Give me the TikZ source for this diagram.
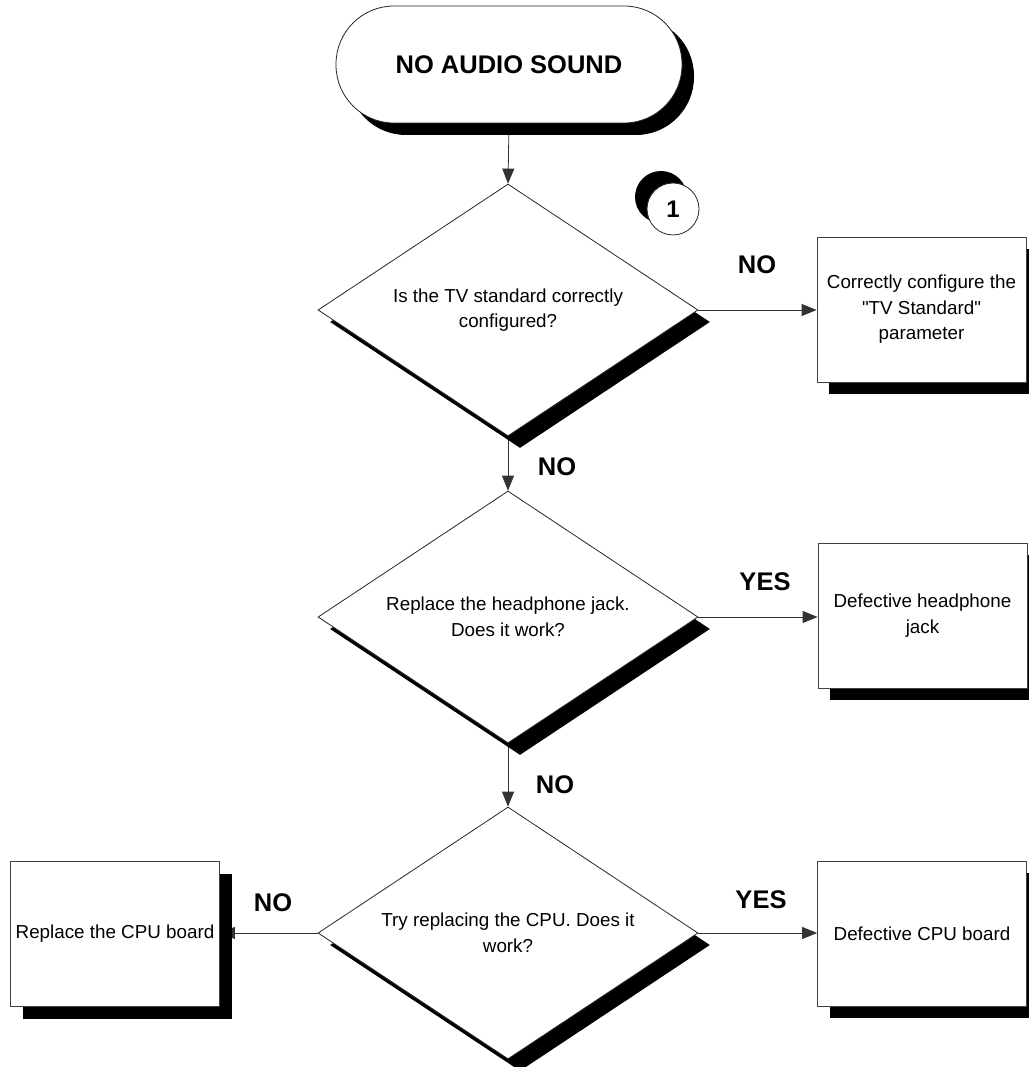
\documentclass[tikz,border=0pt]{standalone}
\usepackage{fontspec}
\setmainfont{Liberation Sans}[Ligatures=TeXOff]
\usetikzlibrary{shapes.geometric,shadows,arrows.meta}
\pgfdeclarelayer{bg}
\pgfsetlayers{bg,main}
\begin{document}
\begin{tikzpicture}[x=1pt,y=-1pt,
  txt/.style={font=\fontsize{18.8}{25.5}\selectfont, align=center, text=black},
  lbl/.style={font=\fontsize{25.5}{28}\selectfont\bfseries, inner sep=0pt},
  shad/.style={drop shadow={shadow xshift=12pt, shadow yshift=-12pt, fill=black, opacity=1}},
  dec/.style={diamond, shape aspect=1.5, draw=black!85, line width=0.8pt, fill=white, shad,
    minimum width=380pt, minimum height=252pt, inner sep=0pt, txt},
  box/.style={rectangle, draw=black!75, line width=0.8pt, fill=white, shad,
    minimum width=209pt, minimum height=145pt, inner sep=2pt, txt},
  term/.style={rectangle, rounded corners=58pt, draw=black!85, line width=0.8pt, fill=white, shad,
    minimum width=346pt, minimum height=117pt, font=\fontsize{25.5}{28}\selectfont\bfseries},
  conn/.style={draw=black!80, line width=0.8pt, -{Triangle[length=15pt,width=12pt]}}
]
\useasboundingbox (0,0) rectangle (1028,1067);

\node[term] (T) at (509,64.5) {NO AUDIO SOUND};
\node[circle, draw=black!85, line width=0.8pt, fill=white, minimum size=52pt, inner sep=0pt,
  drop shadow={shadow xshift=-12pt, shadow yshift=12pt, fill=black, opacity=1},
  font=\fontsize{24}{26}\selectfont\bfseries] (C) at (673,209) {1};

\node[dec] (D1) at (508,310) {Is the TV standard correctly\\configured?};
\node[dec] (D2) at (508,617) {Replace the headphone jack.\\Does it work?};
\node[dec] (D3) at (508,933) {Try replacing the CPU. Does it\\work?};

\node[box] (B1) at (921.5,309.5) {Correctly configure the\\"TV Standard"\\parameter};
\node[box] (B2) at (922.5,615.5) {Defective headphone\\jack};
\node[box] (B3) at (922,933.5) {Defective CPU board};
\node[box] (B4) at (115,934) {Replace the CPU board};

\node[lbl] (L1) at (757,265) {NO};
\node[lbl] (L2) at (557,467) {NO};
\node[lbl] (L3) at (765,582) {YES};
\node[lbl] (L4) at (555,785) {NO};
\node[lbl] (L5) at (761,900) {YES};
\node[lbl] (L6) at (273,903) {NO};

\begin{pgfonlayer}{bg}
\draw[conn] (T.south) -- (D1.north);
\draw[conn] (D1.south) -- (D2.north);
\draw[conn] (D2.south) -- (D3.north);
\draw[conn] (D1.east) -- (D1.east -| B1.west);
\draw[conn] (D2.east) -- (D2.east -| B2.west);
\draw[conn] (D3.east) -- (D3.east -| B3.west);
\draw[conn] (D3.west) -- (D3.west -| B4.east);
\end{pgfonlayer}
\end{tikzpicture}
\end{document}
